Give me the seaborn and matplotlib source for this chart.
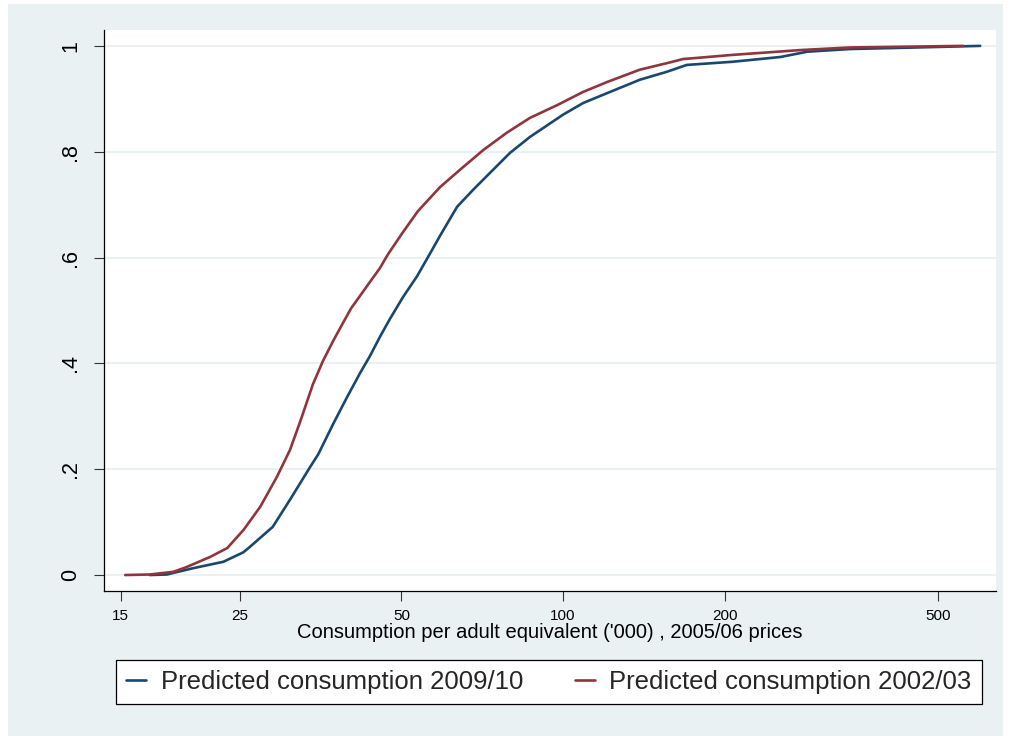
import numpy as np
import pandas as pd
import matplotlib
matplotlib.use("Agg")
import matplotlib.pyplot as plt
from matplotlib.patches import Rectangle
import seaborn as sns

# CDF values (consumption in '000, cumulative share)
cons_2009 = [17.0, 18.3, 18.8, 20.5, 23.3, 25.4, 26.1, 28.8, 31.0, 33.8, 35.0, 37.3, 39.6, 41.9,
             43.7, 45.6, 47.6, 50.4, 53.5, 57.0, 59.0, 63.5, 68.0, 73.1, 79.7, 86.8, 100, 109,
             121, 139, 156, 170, 207, 254, 285, 342, 456, 598]
cdf_2009 = [0, 0.001, 0.004, 0.013, 0.025, 0.043, 0.053, 0.091, 0.142, 0.204, 0.228, 0.285, 0.336,
            0.382, 0.414, 0.450, 0.484, 0.526, 0.565, 0.614, 0.641, 0.696, 0.728, 0.760, 0.798,
            0.828, 0.870, 0.892, 0.911, 0.936, 0.951, 0.964, 0.970, 0.979, 0.989, 0.994, 0.997, 1.0]

cons_2002 = [15.3, 17.0, 18.8, 19.9, 22.0, 23.7, 25.4, 27.3, 29.3, 31.0, 32.4, 34.2, 35.7, 37.3,
             38.9, 40.3, 41.9, 43.7, 45.6, 47.2, 50.1, 53.7, 59.0, 64.3, 71.0, 78.6, 86.8, 97.5,
             109, 121, 139, 160, 167, 207, 276, 342, 556]
cdf_2002 = [0, 0.001, 0.006, 0.015, 0.034, 0.051, 0.085, 0.129, 0.185, 0.236, 0.290, 0.360, 0.404,
            0.442, 0.476, 0.504, 0.528, 0.554, 0.580, 0.606, 0.645, 0.688, 0.733, 0.766, 0.803,
            0.836, 0.864, 0.888, 0.913, 0.932, 0.955, 0.970, 0.975, 0.983, 0.992, 0.997, 1.0]

series_names = ["Predicted consumption 2009/10", "Predicted consumption 2002/03"]
x_ticks = [15, 25, 50, 100, 200, 500]
y_ticks = [0, 0.2, 0.4, 0.6, 0.8, 1.0]
y_tick_labels = ["0", ".2", ".4", ".6", ".8", "1"]

df = pd.concat([
    pd.DataFrame({"cons": cons_2009, "cdf": cdf_2009, "series": series_names[0]}),
    pd.DataFrame({"cons": cons_2002, "cdf": cdf_2002, "series": series_names[1]}),
])

bg = "#EAF1F3"
sns.set_theme(style="white")
plt.rcParams["font.family"] = ["Liberation Sans", "DejaVu Sans"]

fig = plt.figure(figsize=(10.1, 7.36), dpi=100)
fig.add_artist(Rectangle((8 / 1010, 0), 995 / 1010, 1 - 4 / 736, transform=fig.transFigure,
                         facecolor=bg, edgecolor="none", zorder=-5))
ax = fig.add_axes([104 / 1010, 1 - 591 / 736, 892 / 1010, 561 / 736])
ax.set_facecolor("white")

sns.lineplot(data=df, x="cons", y="cdf", hue="series", palette=["#1A476F", "#90353B"],
             sort=False, estimator=None, linewidth=1.9, ax=ax)

ax.set_xscale("log")
ax.set_xlim(13.97, 640)
ax.set_ylim(-0.0302, 1.030)
ax.xaxis.set_minor_locator(matplotlib.ticker.NullLocator())

ax.tick_params(axis="x", which="major", bottom=True, length=7.2, width=0.8, pad=5.5,
               color="#333333", labelsize=11, labelcolor="black")
ax.tick_params(axis="y", which="major", left=True, length=7.2, width=0.8, pad=9,
               color="#333333", labelsize=15.5, labelcolor="black", labelrotation=90)

ax.set_xticks(x_ticks)
ax.set_xticklabels([str(t) for t in x_ticks])
ax.set_yticks(y_ticks)
ax.set_yticklabels(y_tick_labels)
for lbl in ax.get_yticklabels():
    lbl.set_va("center")
    lbl.set_fontsize(15.5)

ax.yaxis.grid(True, color=bg, linewidth=1.5)
ax.xaxis.grid(False)
ax.set_axisbelow(True)

for s in ["top", "right"]:
    ax.spines[s].set_visible(False)
for s in ["left", "bottom"]:
    ax.spines[s].set_color("black")
    ax.spines[s].set_linewidth(0.9)

ax.set_xlabel("Consumption per adult equivalent ('000) , 2005/06 prices", fontsize=14.5,
              labelpad=0.5, color="black")
ax.set_ylabel("")

handles, labels = ax.get_legend_handles_labels()
ax.legend(handles, labels, loc="center", ncol=2, mode="expand",
          bbox_to_anchor=(116 / 1010, 1 - 706 / 736, 866 / 1010, 48 / 736),
          bbox_transform=fig.transFigure, borderaxespad=0, fontsize=18.5, handlelength=0.78,
          handletextpad=0.58, borderpad=0.4, fancybox=False, framealpha=1,
          facecolor="white", edgecolor="black")
ax.get_legend().get_frame().set_linewidth(0.9)

fig.savefig("out.png", dpi=100, facecolor="white")
